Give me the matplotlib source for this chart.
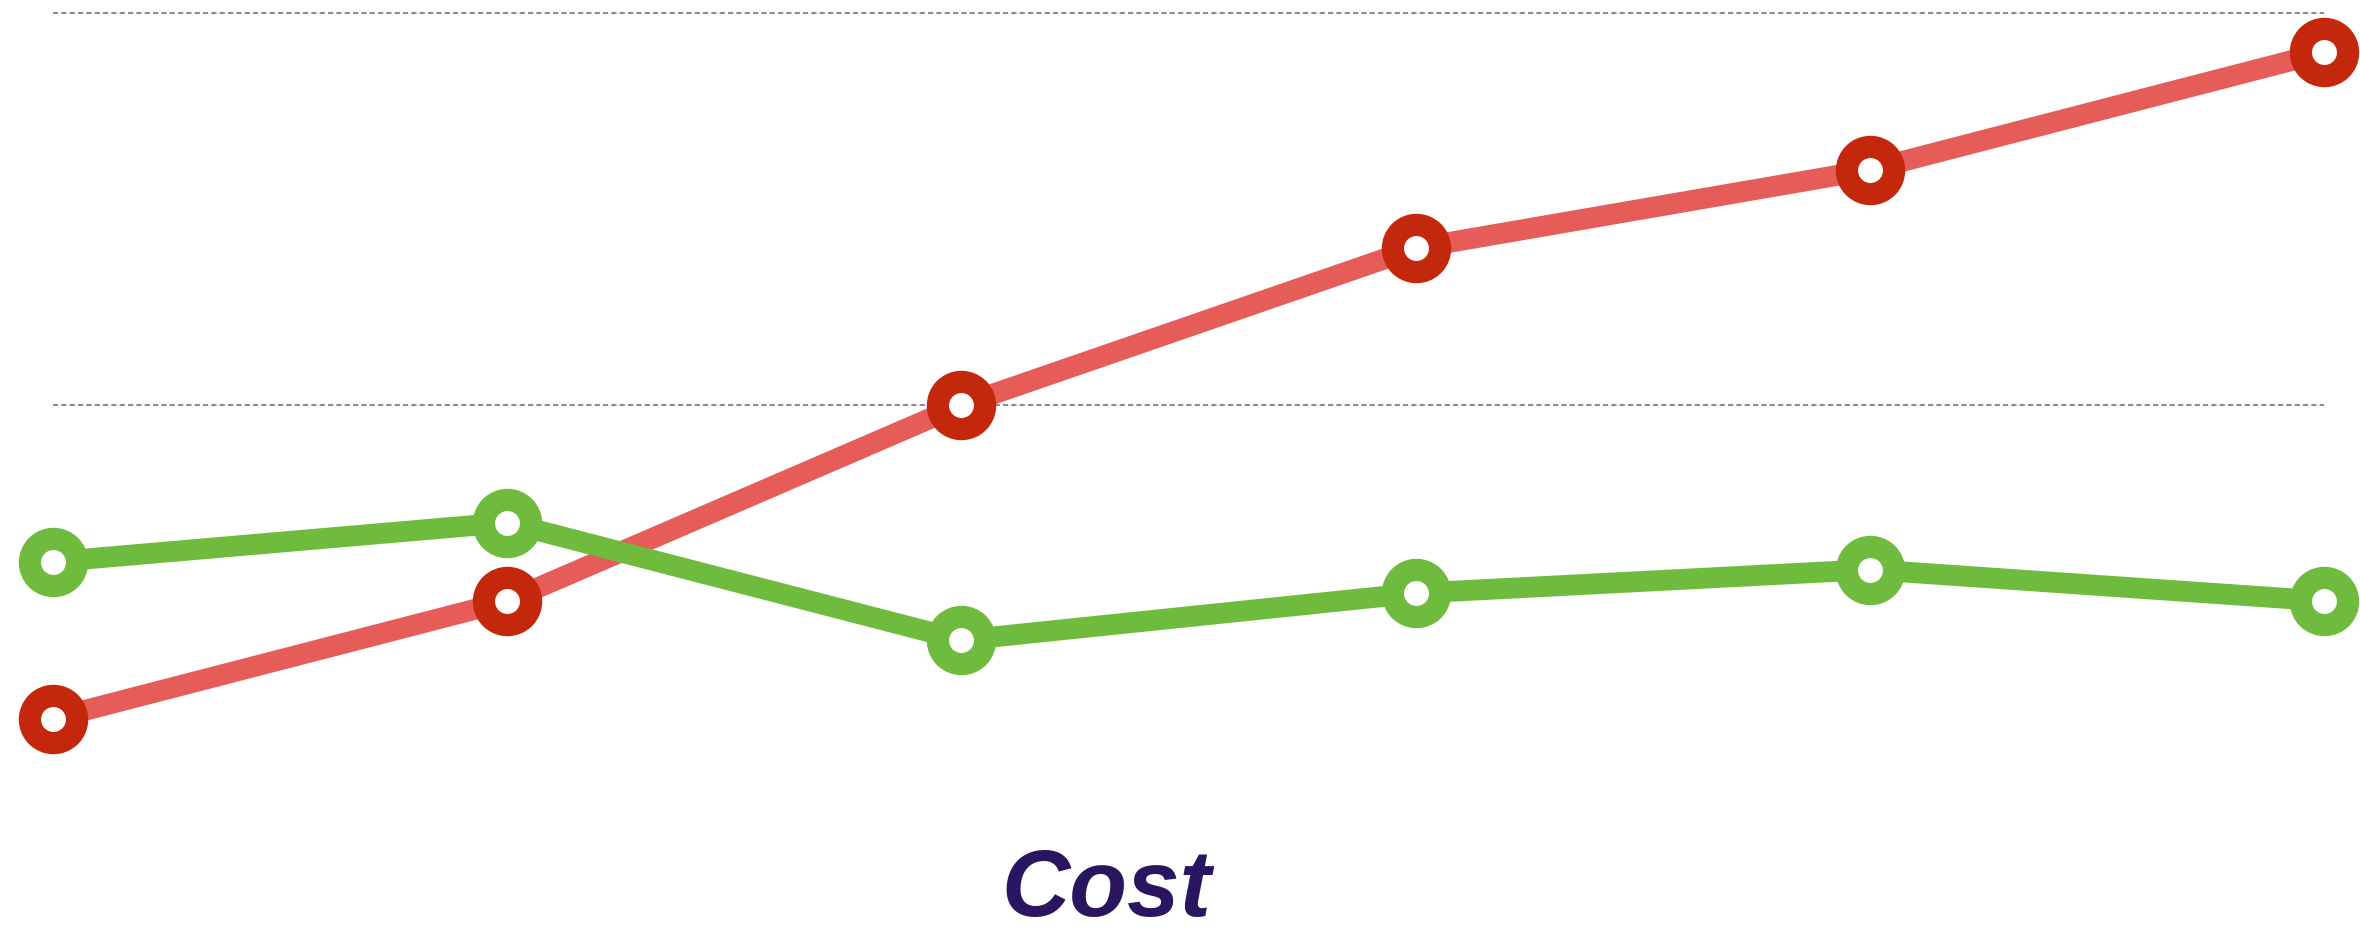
import matplotlib
matplotlib.use("Agg")
import matplotlib.pyplot as plt

# Data
categories = ["1", "2", "3", "4", "5", "6"]
red_values = [10, 25, 50, 70, 80, 95]
green_values = [30, 35, 20, 26, 29, 25]
grid_values = [50, 100]
title = "Cost"

W, H, DPI = 2360, 937, 100
fig = plt.figure(figsize=(W / DPI, H / DPI), dpi=DPI)
ax = fig.add_axes([53 / W, (H - 798) / H, (2324 - 53) / W, (798 - 14) / H])

x = list(range(len(categories)))

for g in grid_values:
    ax.axhline(g, color="#8c8c8c", lw=1.5, ls=(0, (2.5, 1.5)), zorder=1, clip_on=False)

ax.plot(x, red_values, color="#E65C58", lw=15, solid_capstyle="butt", zorder=2,
        marker="o", ms=34, mew=16, mec="#C4280C", mfc="white", clip_on=False)
ax.plot(x, green_values, color="#6FBB3D", lw=15, solid_capstyle="butt", zorder=3,
        marker="o", ms=34, mew=16, mec="#6FBB3D", mfc="white", clip_on=False)

ax.set_xlim(0, len(categories) - 1)
ax.set_ylim(0, 100)
ax.axis("off")

fig.text(1106 / W, 0.5 / H, title, ha="center", va="bottom",
         fontsize=68, fontweight="bold", fontstyle="italic",
         family=["Liberation Sans", "DejaVu Sans"], color="#2A1560")

fig.savefig("out.png", dpi=DPI, facecolor="white")
